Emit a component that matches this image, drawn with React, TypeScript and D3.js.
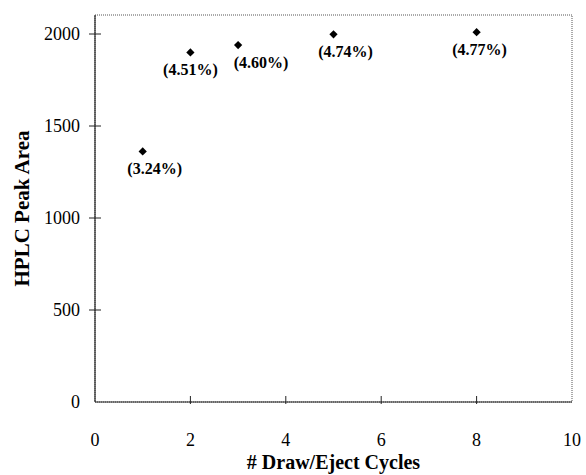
import * as d3 from 'd3'

// draw/eject cycles vs HPLC peak area, with %RSD label per point
const cycles = [1, 2, 3, 5, 8]
const peakArea = [1362, 1900, 1940, 1998, 2010]
const rsdLabels = ['(3.24%)', '(4.51%)', '(4.60%)', '(4.74%)', '(4.77%)']
const labelShift = [12, 0, 23, 12, 3] // nudges so labels sit like the original

const xTicks = [0, 2, 4, 6, 8, 10]
const yTicks = [0, 500, 1000, 1500, 2000]

const App = () => {
    const width = 586, height = 475
    const margin = {top: 15, right: 14, bottom: 73, left: 95}

    const x = d3.scaleLinear()
        .domain([0, 10])
        .range([margin.left, width - margin.right])

    const y = d3.scaleLinear()
        .domain([0, 2000])
        .range([402, 34])

    const diamond = d3.symbol().type(d3.symbolSquare).size(34)()

    const font = '"Liberation Serif", "Times New Roman", serif'

    return (
        <svg width={width} height={height}
             style={{position: 'absolute', left: 0, top: 0, background: '#fff'}}
             fontFamily={font}>
            {/* frame */}
            <rect x={x(0)} y={margin.top} width={x(10) - x(0)} height={y(0) - margin.top}
                  fill="none" stroke="#555" strokeWidth={1} strokeDasharray="1,1"/>
            <line x1={x(0)} x2={x(0)} y1={margin.top} y2={y(0)} stroke="#222" strokeWidth={1.2}/>
            <line x1={x(0)} x2={x(10)} y1={y(0)} y2={y(0)} stroke="#222" strokeWidth={1}/>

            {/* y axis */}
            {yTicks.map(t => (
                <g key={'y' + t}>
                    {t > 0 && <line x1={x(0) - 6} x2={x(0) + 6} y1={y(t)} y2={y(t)} stroke="#222"/>}
                    <text x={x(0) - 15} y={y(t)} dy="0.35em" textAnchor="end" fontSize={18}>{t}</text>
                </g>
            ))}

            {/* x axis */}
            {xTicks.map(t => (
                <g key={'x' + t}>
                    {t > 0 && t < 10 && <line x1={x(t)} x2={x(t)} y1={y(0) - 6} y2={y(0) + 2} stroke="#222"/>}
                    <text x={x(t)} y={446} textAnchor="middle" fontSize={18}>{t}</text>
                </g>
            ))}

            {/* points + labels */}
            {cycles.map((c, i) => (
                <g key={c}>
                    <path d={diamond} transform={`translate(${x(c)},${y(peakArea[i])}) rotate(45)`} fill="#000"/>
                    <text x={x(c) + labelShift[i]} y={y(peakArea[i]) + 23} textAnchor="middle"
                          fontSize={16} fontWeight="bold">{rsdLabels[i]}</text>
                </g>
            ))}

            {/* titles */}
            <text x={(x(0) + x(10)) / 2} y={469} textAnchor="middle" fontSize={20} fontWeight="bold">
                # Draw/Eject Cycles
            </text>
            <text transform={`translate(29,${(margin.top + y(0)) / 2}) rotate(-90)`} textAnchor="middle"
                  fontSize={21} fontWeight="bold">
                HPLC Peak Area
            </text>
        </svg>
    )
}

export default App
